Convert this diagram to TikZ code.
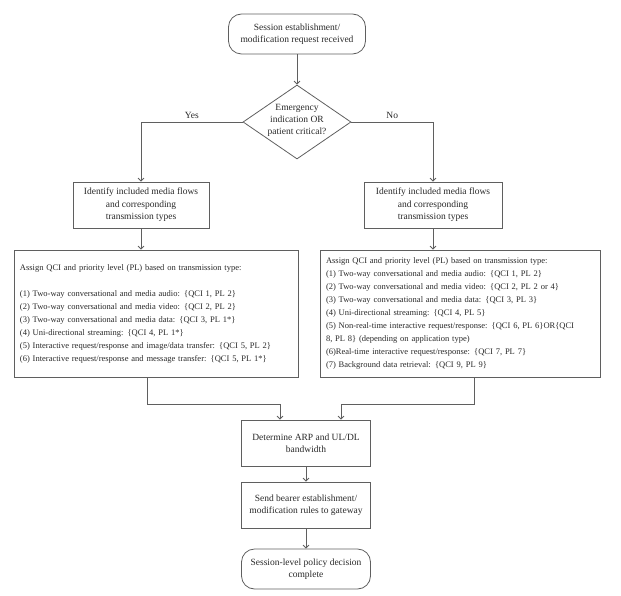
\documentclass[tikz,border=0pt]{standalone}
\usepackage{fontspec}
\setmainfont{Liberation Serif}
\usepackage{tikz}
\usetikzlibrary{shapes.geometric,arrows.meta}
\definecolor{flowline}{RGB}{95,95,95}
\definecolor{flowtext}{RGB}{40,40,40}

\begin{document}
\begin{tikzpicture}[x=1bp,y=-1bp,
    every node/.style={text=flowtext},
    box/.style={draw=flowline,line width=0.8bp,align=center,inner sep=2bp,font=\fontsize{9.5bp}{12.5bp}\selectfont},
    term/.style={box,rounded corners=13bp},
    decision/.style={draw=flowline,line width=0.8bp,diamond,minimum width=108bp,minimum height=74bp,inner sep=0pt},
    listbox/.style={draw=flowline,line width=0.8bp,align=left,inner sep=6bp,minimum height=127bp,font=\fontsize{8.5bp}{13bp}\selectfont},
    arr/.style={draw=flowline,line width=0.8bp,-{Straight Barb[length=3bp,width=6bp]}},
    lbl/.style={font=\fontsize{9.5bp}{12bp}\selectfont}]

\useasboundingbox (0,0) rectangle (621,596);

% start and decision
\node[term,minimum width=137bp,minimum height=40bp] (start) at (297,34) {Session establishment/\\modification request received};
\node[decision] (decide) at (297,122) {};
\node[align=center,inner sep=0pt,font=\fontsize{9.5bp}{12bp}\selectfont] (decidetext) at (297,120) {Emergency\\indication OR\\patient critical?};

% media flows
\node[box,minimum width=136bp,minimum height=46bp] (identL) at (141,205) {Identify included media flows\\and corresponding\\transmission types};
\node[box,minimum width=138bp,minimum height=46bp] (identR) at (433,205) {Identify included media flows\\and corresponding\\transmission types};

% QCI / PL assignment
\node[listbox,text width=272bp] (assignL) at (156,313.5) {Assign QCI and priority level (PL) based on transmission type:\\[13bp]
(1) Two-way conversational and media audio: \{QCI 1, PL 2\}\\
(2) Two-way conversational and media video: \{QCI 2, PL 2\}\\
(3) Two-way conversational and media data: \{QCI 3, PL 1*\}\\
(4) Uni-directional streaming: \{QCI 4, PL 1*\}\\
(5) Interactive request/response and image/data transfer: \{QCI 5, PL 2\}\\
(6) Interactive request/response and message transfer: \{QCI 5, PL 1*\}};
\node[listbox,text width=268bp] (assignR) at (460,313.5) {Assign QCI and priority level (PL) based on transmission type:\\
(1) Two-way conversational and media audio: \{QCI 1, PL 2\}\\
(2) Two-way conversational and media video: \{QCI 2, PL 2 or 4\}\\
(3) Two-way conversational and media data: \{QCI 3, PL 3\}\\
(4) Uni-directional streaming: \{QCI 4, PL 5\}\\
(5) Non-real-time interactive request/response: \{QCI 6, PL 6\}OR\{QCI\\
8, PL 8\} (depending on application type)\\
(6)Real-time interactive request/response: \{QCI 7, PL 7\}\\
(7) Background data retrieval: \{QCI 9, PL 9\}};

% bearer steps
\node[box,minimum width=129bp,minimum height=46bp] (determine) at (306,443) {Determine ARP and UL/DL\\bandwidth};
\node[box,minimum width=129bp,minimum height=46bp] (send) at (306,505) {Send bearer establishment/\\modification rules to gateway};
\node[term,minimum width=129bp,minimum height=40bp] (finish) at (306,569) {Session-level policy decision\\complete};

% connectors
\draw[arr] (start) -- (decide);
\draw[arr] (decide.west) -| (identL.north) node[lbl,pos=0.25,above] {Yes};
\draw[arr] (decide.east) -| (identR.north) node[lbl,pos=0.25,above] {No};
\draw[arr] (identL.south) -- (identL.south |- assignL.north);
\draw[arr] (identR.south) -- (identR.south |- assignR.north);
\draw[arr] ([xshift=-9bp]assignL.south) |- ([xshift=-26bp,yshift=15bp]determine.north) -- ([xshift=-26bp]determine.north);
\draw[arr] ([xshift=14bp]assignR.south) |- ([xshift=35bp,yshift=15bp]determine.north) -- ([xshift=35bp]determine.north);
\draw[arr] (determine) -- (send);
\draw[arr] (send) -- (finish);
\end{tikzpicture}
\end{document}
